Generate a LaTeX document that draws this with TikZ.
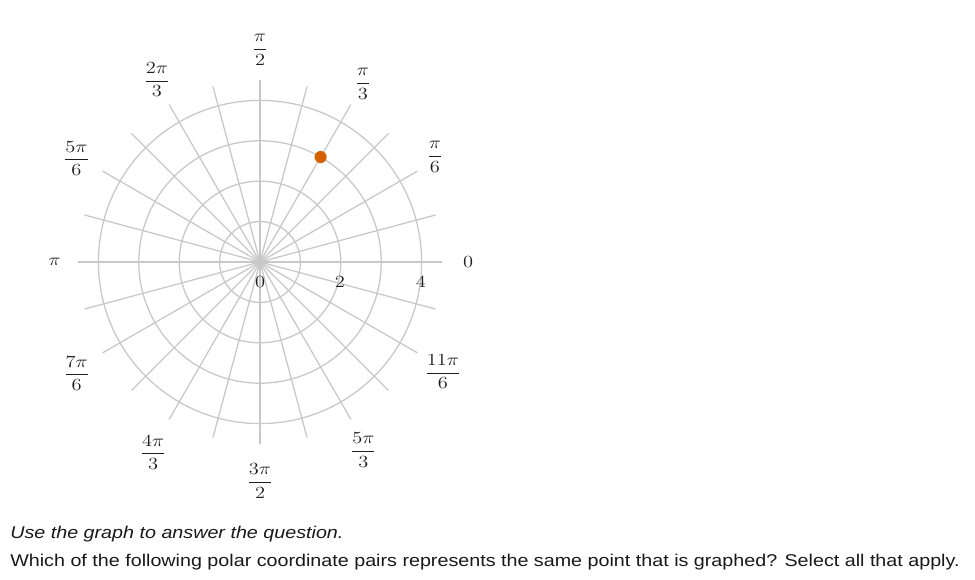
\documentclass[tikz,border=0pt]{standalone}
\usepackage{amsmath}
\usepackage{graphicx}
\usepackage{fontspec}
\newfontfamily\qfont[FakeStretch=1.157]{Liberation Sans}
\definecolor{gridgray}{RGB}{200,200,200}
\definecolor{dotorange}{RGB}{214,95,0}
\definecolor{labelink}{RGB}{30,30,30}
\newcommand{\widefrac}[2]{\scalebox{1.2}[1]{$\dfrac{#1}{#2}$}}
\tikzset{
  gridline/.style={draw=gridgray, line width=0.9pt},
  anglelabel/.style={text=labelink, font=\fontsize{12.5}{15}\selectfont, inner sep=0pt},
  radiuslabel/.style={text=labelink, font=\fontsize{12.5}{15}\selectfont, inner sep=0pt},
  question/.style={text=black!90, font=\qfont\fontsize{12}{14}\selectfont, anchor=base west, inner sep=0pt}
}
\begin{document}
\begin{tikzpicture}

                        \useasboundingbox (-6.436,-7.847) rectangle (17.698,6.485);

                        % circles
                        \draw[gridline] (0,0) circle (1);
                        \draw[gridline] (0,0) circle (2);
                        \draw[gridline] (0,0) circle (3);
                        \draw[gridline] (0,0) circle (4);

                        % spokes
                        \draw[gridline] (0:4.5)--(180:4.5);
                        \draw[gridline] (15:4.5)--(195:4.5);
                        \draw[gridline] (30:4.5)--(210:4.5);
                        \draw[gridline] (45:4.5)--(225:4.5);
                        \draw[gridline] (60:4.5)--(240:4.5);
                        \draw[gridline] (75:4.5)--(255:4.5);
                        \draw[gridline] (90:4.5)--(270:4.5);
                        \draw[gridline] (105:4.5)--(285:4.5);
                        \draw[gridline] (120:4.5)--(300:4.5);
                        \draw[gridline] (135:4.5)--(315:4.5);
                        \draw[gridline] (150:4.5)--(330:4.5);
                        \draw[gridline] (165:4.5)--(345:4.5);

                        % angle labels
                        \node[anglelabel] (a0) at (0:5.15) {\scalebox{1.2}[1]{$0$}};
                        \node[anglelabel] (a30) at (31:5.05) {\widefrac{\pi}{6}};
                        \node[anglelabel] (a60) at (60:5.09) {\widefrac{\pi}{3}};
                        \node[anglelabel] (a90) at (90:5.25) {\widefrac{\pi}{2}};
                        \node[anglelabel] (a120) at (119.5:5.18) {\widefrac{2\pi}{3}};
                        \node[anglelabel] (a150) at (150.5:5.22) {\widefrac{5\pi}{6}};
                        \node[anglelabel] (a180) at (180:5.08) {\scalebox{1.2}[1]{$\pi$}};
                        \node[anglelabel] (a210) at (211.3:5.31) {\widefrac{7\pi}{6}};
                        \node[anglelabel] (a240) at (240.7:5.4) {\widefrac{4\pi}{3}};
                        \node[anglelabel] (a270) at (270:5.42) {\widefrac{3\pi}{2}};
                        \node[anglelabel] (a300) at (298.8:5.31) {\widefrac{5\pi}{3}};
                        \node[anglelabel] (a330) at (329:5.28) {\widefrac{11\pi}{6}};

                        % radius labels
                        \node[radiuslabel] (r0) at (0,-0.49) {\scalebox{1.2}[1]{$0$}};
                        \node[radiuslabel] (r2) at (1.98,-0.49) {\scalebox{1.2}[1]{$2$}};
                        \node[radiuslabel] (r4) at (3.98,-0.49) {\scalebox{1.2}[1]{$4$}};

                        % the graphed point
                        \node[circle, fill=dotorange, inner sep=0pt, minimum size=0.3cm] (pt) at (60:3) {};

                        % question
                        \node[question] (q1) at (-6.188,-6.832) {\itshape Use the graph to answer the question.};
                        \node[question] (q2) at (-6.188,-7.525) {Which of the following polar coordinate pairs represents the same point that is graphed? Select all that apply.};

\end{tikzpicture}
\end{document}
